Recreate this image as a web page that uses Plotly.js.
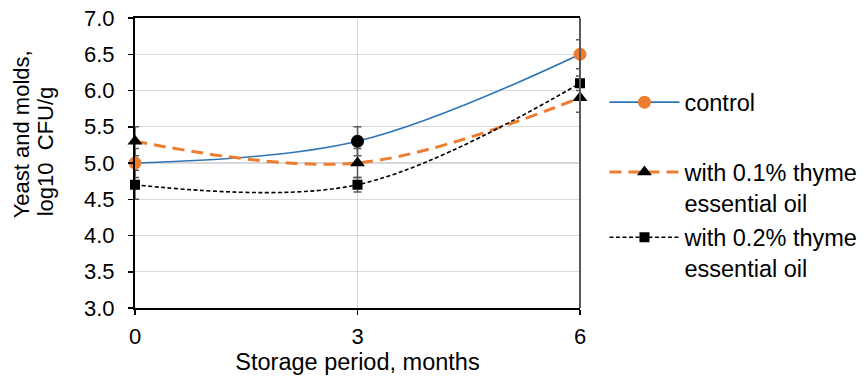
<!DOCTYPE html>
<html>
<head>
<meta charset="utf-8">
<script src="https://cdn.plot.ly/plotly-3.0.1.min.js"></script>
<style>
  html, body { margin: 0; padding: 0; background: #fff; }
  #chart { width: 866px; height: 377px; }
</style>
</head>
<body>
<div id="chart"></div>
<script>
// Storage period (months)
const months = [0, 3, 6];
const tickLabels = ['0', '3', '6'];

// Yeast and molds, log10 CFU/g
const control = [5.0, 5.3, 6.5];
const controlErr = [0.2, 0.2, 0.2];

const thyme01 = [5.3, 5.0, 5.9];
const thyme01Err = [0.2, 0.2, 0.2];

const thyme02 = [4.7, 4.7, 6.1];
const thyme02Err = [0.2, 0.1, 0.1];

const seriesNames = [
  'control',
  'with 0.1% thyme<br>essential oil',
  'with 0.2% thyme<br>essential oil'
];

const yTitleLines = ['Yeast and molds,', 'log10  CFU/g'];
const xTitle = 'Storage period, months';

const FONT = 'Liberation Sans, Arial, sans-serif';
const TICK_SIZE = 22;
const TEXT_SIZE = 23.5;

const errStyle = (arr) => ({
  type: 'data', array: arr, visible: true,
  color: '#595959', thickness: 1.5, width: 4
});

const traces = [
  {
    x: months, y: control, name: seriesNames[0], legend: 'legend',
    type: 'scatter', mode: 'lines+markers', cliponaxis: false,
    line: { color: '#2e75b6', width: 1.6, shape: 'spline', smoothing: 1 },
    marker: { symbol: 'circle', size: 13, color: ['#ed7d31', '#000000', '#ed7d31'] },
    error_y: errStyle(controlErr)
  },
  {
    x: months, y: thyme01, name: seriesNames[1], legend: 'legend2',
    type: 'scatter', mode: 'lines+markers', cliponaxis: false,
    line: { color: '#ed7d31', width: 3, dash: '12px,7px', shape: 'spline', smoothing: 1 },
    marker: { symbol: 'triangle-up', size: 13, color: '#000000' },
    error_y: errStyle(thyme01Err)
  },
  {
    x: months, y: thyme02, name: seriesNames[2], legend: 'legend3',
    type: 'scatter', mode: 'lines+markers', cliponaxis: false,
    line: { color: '#000000', width: 1.6, dash: '4px,2.5px', shape: 'spline', smoothing: 1 },
    marker: { symbol: 'square', size: 10, color: '#000000' },
    error_y: errStyle(thyme02Err)
  }
];

const legendBase = {
  xref: 'paper', yref: 'paper', x: 1.055, xanchor: 'left', yanchor: 'middle',
  font: { family: FONT, size: TEXT_SIZE, color: '#000' },
  bgcolor: 'rgba(0,0,0,0)', borderwidth: 0, itemwidth: 70, valign: 'top'
};

// Plot area in pixels, used to place the two-line y title
const M = { l: 135, r: 286, t: 17.5, b: 69, autoexpand: false };
const plotW = 866 - M.l - M.r;
const plotH = 377 - M.t - M.b;
const px2x = (px) => (px - M.l) / plotW;
const py2y = (py) => (377 - M.b - py) / plotH;

const layout = {
  width: 866, height: 377,
  margin: M,
  paper_bgcolor: '#fff', plot_bgcolor: '#fff',
  font: { family: FONT, size: TEXT_SIZE, color: '#000' },
  showlegend: true,
  legend: Object.assign({}, legendBase, { y: 0.709 }),
  legend2: Object.assign({}, legendBase, { y: 0.415 }),
  legend3: Object.assign({}, legendBase, { y: 0.19 }),
  xaxis: {
    range: [0, 6], tickvals: months, ticktext: tickLabels,
    showgrid: true, gridcolor: '#d9d9d9', gridwidth: 1.3,
    showline: true, linecolor: '#000', linewidth: 2, mirror: true,
    ticks: 'outside', ticklen: 5, tickcolor: '#000', tickwidth: 1.5,
    ticklabelstandoff: 3,
    zeroline: false,
    tickfont: { family: FONT, size: TICK_SIZE, color: '#000' },
    title: { text: xTitle, font: { family: FONT, size: TEXT_SIZE, color: '#000' }, standoff: 2 }
  },
  yaxis: {
    range: [3, 7], dtick: 0.5, tickformat: '.1f',
    showgrid: true, gridcolor: '#d9d9d9', gridwidth: 1.3,
    showline: true, linecolor: '#000', linewidth: 2, mirror: false,
    ticks: 'outside', ticklen: 5, tickcolor: '#000', tickwidth: 1.5,
    ticklabelstandoff: 9,
    zeroline: false,
    tickfont: { family: FONT, size: TICK_SIZE, color: '#000' }
  },
  annotations: [
    { text: yTitleLines[0], xref: 'paper', yref: 'paper', x: px2x(21), y: py2y(134),
      xanchor: 'center', yanchor: 'middle', textangle: -90, showarrow: false,
      font: { family: FONT, size: 22, color: '#000' } },
    { text: yTitleLines[1], xref: 'paper', yref: 'paper', x: px2x(45), y: py2y(151),
      xanchor: 'center', yanchor: 'middle', textangle: -90, showarrow: false,
      font: { family: FONT, size: 22, color: '#000' } }
  ],
  shapes: [
    { type: 'line', xref: 'paper', yref: 'paper', x0: 1, x1: 1, y0: 0, y1: 1,
      line: { color: '#595959', width: 2 } }
  ]
};

Plotly.newPlot('chart', traces, layout, { staticPlot: true, displayModeBar: false });
</script>
</body>
</html>
